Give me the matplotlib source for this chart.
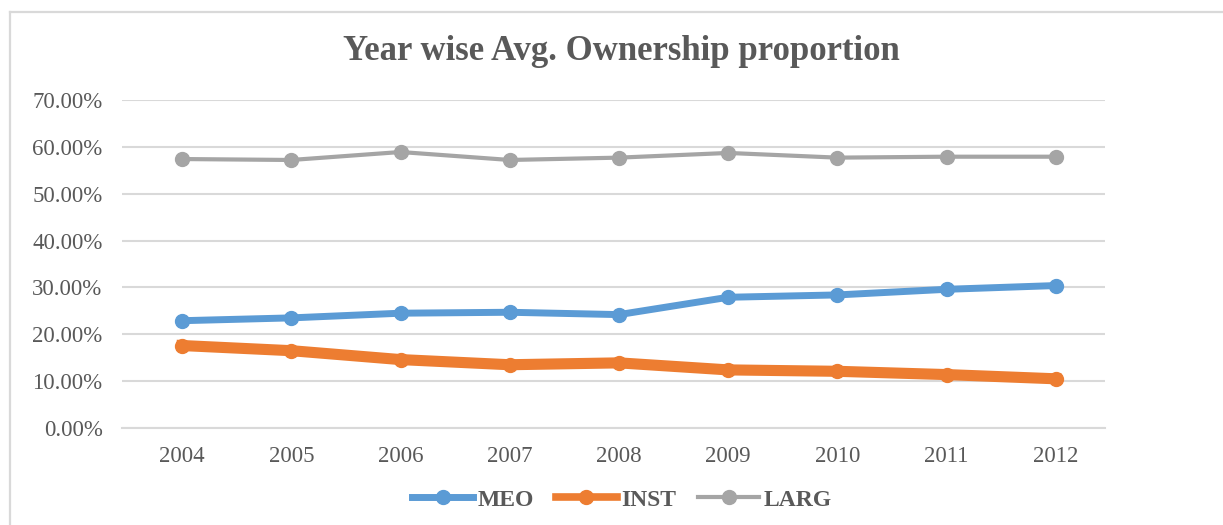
import matplotlib.pyplot as plt
from matplotlib.ticker import FuncFormatter
from matplotlib.lines import Line2D

years = ["2004", "2005", "2006", "2007", "2008", "2009", "2010", "2011", "2012"]
meo = [22.9, 23.5, 24.5, 24.7, 24.2, 27.9, 28.4, 29.6, 30.4]
inst = [17.6, 16.5, 14.6, 13.5, 13.9, 12.4, 12.1, 11.4, 10.5]
larg = [57.4, 57.2, 58.9, 57.2, 57.7, 58.7, 57.7, 57.9, 57.9]

plt.rcParams['font.family'] = ['Liberation Serif', 'DejaVu Serif']
txt = '#595959'

fig = plt.figure(figsize=(12.23, 5.25), dpi=100)
ax = fig.add_axes([122 / 1223, 1 - 428 / 525, (1105 - 122) / 1223, (428 - 100) / 525])

# light chart border (top and left only are visible)
fig.add_artist(Line2D([10 / 1223, 10 / 1223], [0, 1 - 12 / 525], transform=fig.transFigure,
                      color='#D9D9D9', lw=1.6))
fig.add_artist(Line2D([10 / 1223, 1], [1 - 12 / 525, 1 - 12 / 525], transform=fig.transFigure,
                      color='#D9D9D9', lw=1.6))

x = range(len(years))
ax.plot(x, meo, color='#5B9BD5', lw=5, marker='o', ms=10, label='MEO', zorder=3)
ax.plot(x, inst, color='#ED7D31', lw=8, marker='o', ms=10, label='INST', zorder=3)
ax.plot(x, larg, color='#A5A5A5', lw=3, marker='o', ms=10, label='LARG', zorder=3)

ax.set_xlim(-0.55, len(years) - 0.55)
ax.set_ylim(0, 70)
ax.set_yticks(range(0, 71, 10))
ax.yaxis.set_major_formatter(FuncFormatter(lambda v, p: f"{v:.2f}%"))
ax.set_xticks(list(x))
ax.set_xticklabels(years)
ax.grid(axis='y', color='#D9D9D9', lw=1.5)
ax.set_axisbelow(True)
for s in ['top', 'right', 'left']:
    ax.spines[s].set_visible(False)
ax.spines['bottom'].set_color('#D9D9D9')
ax.spines['bottom'].set_linewidth(1.5)
ax.tick_params(axis='both', length=0, labelsize=16.5, colors=txt)
ax.tick_params(axis='y', pad=14)
ax.tick_params(axis='x', pad=13)

fig.text(0.508, 1 - 51 / 525, "Year wise Avg. Ownership proportion", ha='center', va='center',
         fontsize=25, fontweight='bold', color=txt)

leg = ax.legend(loc='center', bbox_to_anchor=(622 / 1223, 1 - 500 / 525), bbox_transform=fig.transFigure,
                ncol=3, frameon=False, handlelength=2.6, handletextpad=0.2, columnspacing=0.9,
                prop={'size': 17, 'weight': 'bold'})
for t in leg.get_texts():
    t.set_color(txt)
for h, w in zip(leg.legend_handles, [5, 5.5, 3]):
    h.set_linewidth(w)

fig.savefig("out.png", dpi=100)
